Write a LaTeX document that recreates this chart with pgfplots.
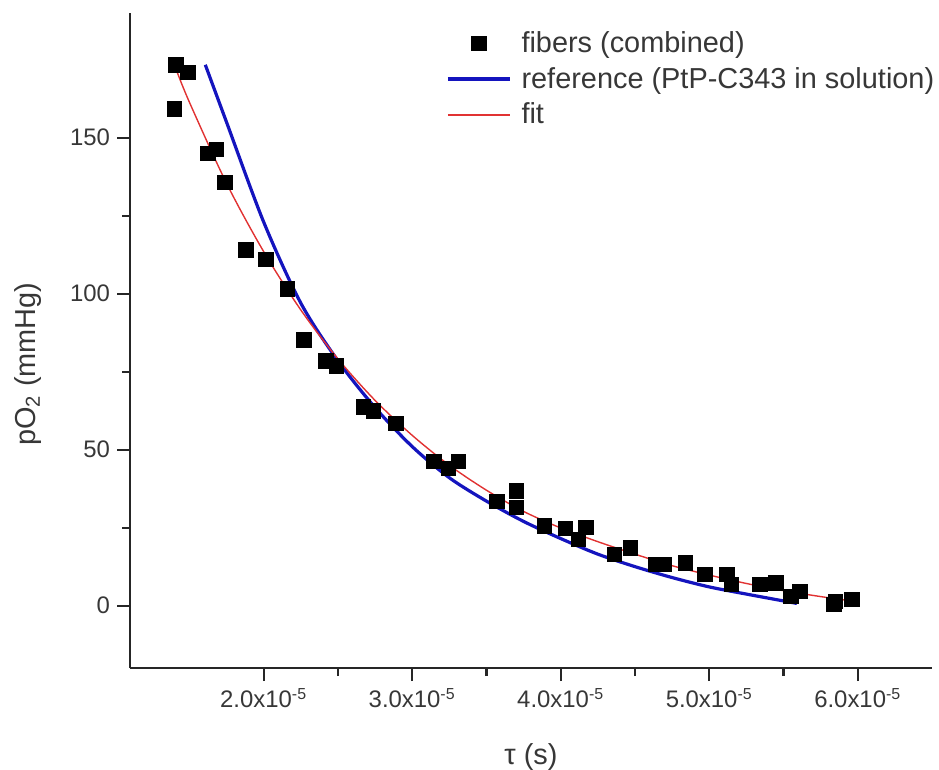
\documentclass[border=0pt]{standalone}
\usepackage{fontspec}
\setmainfont{Liberation Sans}
\usepackage{pgfplots}
\pgfplotsset{compat=1.18}
\definecolor{txt}{RGB}{55,55,55}
\definecolor{refblue}{RGB}{20,20,190}
\definecolor{fitred}{RGB}{225,50,50}

% tau is given in units of 1e-5 s
\begin{document}
\begin{tikzpicture}
\begin{axis}[
  scale only axis, width=401bp, height=327.5bp,
  xmin=1.1, xmax=6.5, ymin=-20, ymax=190,
  axis x line*=bottom, axis y line*=left,
  axis line style={line width=1.1bp, black!85, -},
  tick align=outside,
  major tick length=6.5bp, minor tick length=4bp,
  every tick/.style={line width=1.1bp, black!85},
  xtick={2,3,4,5,6},
  xticklabels={2.0x10\textsuperscript{-5},3.0x10\textsuperscript{-5},4.0x10\textsuperscript{-5},5.0x10\textsuperscript{-5},6.0x10\textsuperscript{-5}},
  ytick={0,50,100,150},
  minor x tick num=1, minor y tick num=1,
  /pgf/number format/assume math mode=true,
  tick label style={font=\fontsize{12}{14}\selectfont, text=txt},
  xlabel={τ (s)}, ylabel={pO\textsubscript{2} (mmHg)},
  label style={font=\fontsize{14.5}{17}\selectfont, text=txt},
  xlabel style={at={(axis description cs:0.5,-0.136)}, anchor=center},
  ylabel style={at={(axis description cs:-0.127,0.464)}, anchor=center},
  legend style={at={(axis description cs:0.3865,0.985)}, anchor=north west,
    draw=none, fill=none, font=\fontsize{14.5}{17}\selectfont, text=txt,
    row sep=2bp},
  legend image code/.code={%
    \draw[mark repeat=2,mark phase=2,#1] plot coordinates {(0bp,0bp) (15.5bp,0bp) (31bp,0bp)};
    \path (0bp,0bp) (34bp,0bp);},
  legend cell align=left,
]
\coordinate (bl) at (rel axis cs:0,0);
\coordinate (tr) at (rel axis cs:1,1);

\addplot[only marks, mark=square*, mark size=3.6bp, black] coordinates {
(1.41,173.3)(1.40,159.2)(1.49,171.0)(1.625,145.0)(1.68,146.3)(1.74,135.7)
(1.88,114.0)(2.015,111.0)(2.16,101.6)(2.27,85.2)(2.42,78.5)(2.49,76.8)
(2.67,63.7)(2.74,62.4)(2.89,58.5)(3.145,46.3)(3.245,44.0)(3.31,46.3)
(3.57,33.5)(3.70,36.8)(3.70,31.4)(3.89,25.5)(4.03,24.7)(4.12,21.2)
(4.17,25.0)(4.36,16.4)(4.47,18.5)(4.64,13.2)(4.70,13.2)(4.84,13.7)
(4.97,10.0)(5.12,10.0)(5.15,6.8)(5.34,6.8)(5.45,7.3)(5.55,3.0)
(5.61,4.6)(5.84,0.3)(5.85,1.4)(5.96,1.9)};
\addlegendentry{fibers (combined)}

\addplot[refblue, line width=1.6bp, smooth] coordinates {
(1.607,173.4)(1.75,155)(2.0,123)(2.25,97)(2.5,78.5)(2.75,63.5)(3.0,51)
(3.25,41)(3.5,33.5)(3.75,27)(4.0,21.5)(4.25,16.5)(4.5,12.5)(4.75,9)
(5.0,6)(5.25,3.7)(5.5,1.5)(5.59,0.7)};
\addlegendentry{reference (PtP-C343 in solution)}

\addplot[fitred, line width=0.7bp, smooth] coordinates {
(1.41,172.0)(1.5,161.4)(1.75,135.4)(2.0,113.5)(2.25,94.8)(2.5,79.1)
(2.75,65.8)(3.0,54.6)(3.25,45.0)(3.5,37.0)(3.75,30.2)(4.0,24.9)
(4.25,20.5)(4.5,16.5)(4.75,12.8)(5.0,9.8)(5.25,7.1)(5.5,4.8)
(5.75,2.9)(5.96,1.5)};
\addlegendentry{fit}
\end{axis}
\pgfresetboundingbox
\path ([shift={(-65bp,-51bp)}]bl) rectangle ([shift={(3.5bp,6.5bp)}]tr);
\end{tikzpicture}
\end{document}
